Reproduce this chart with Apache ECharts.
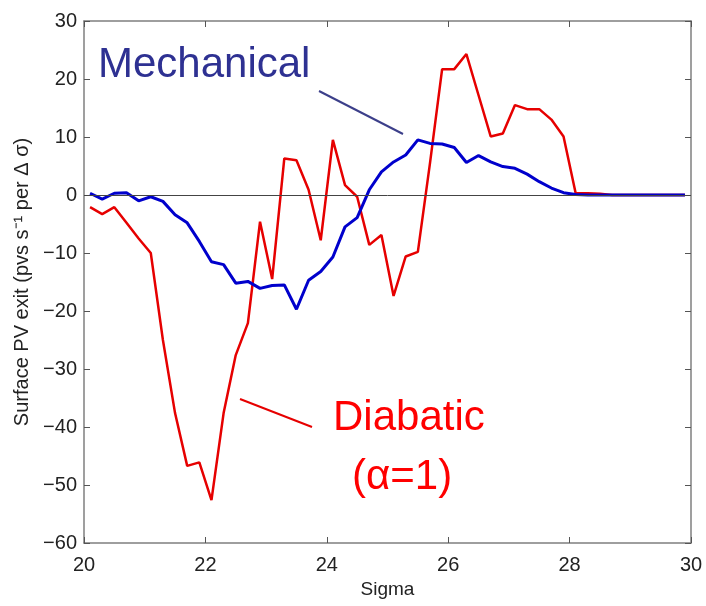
<!DOCTYPE html>
<html>
<head>
<meta charset="utf-8">
<script src="https://cdn.jsdelivr.net/npm/echarts@6/dist/echarts.min.js"></script>
<style>
  html, body { margin: 0; padding: 0; background: #fff; }
  #main { width: 706px; height: 606px; }
</style>
</head>
<body>
<div id="main"></div>
<script>
// sigma levels (step 0.2)
var sigma = [20.1, 20.3, 20.5, 20.7, 20.9, 21.1, 21.3, 21.5, 21.7, 21.9,
  22.1, 22.3, 22.5, 22.7, 22.9, 23.1, 23.3, 23.5, 23.7, 23.9,
  24.1, 24.3, 24.5, 24.7, 24.9, 25.1, 25.3, 25.5, 25.7, 25.9,
  26.1, 26.3, 26.5, 26.7, 26.9, 27.1, 27.3, 27.5, 27.7, 27.9,
  28.1, 28.3, 28.5, 28.7, 28.9, 29.1, 29.3, 29.5, 29.7, 29.9];

// diabatic (alpha=1), red
var diabatic = [-2.1, -3.3, -2.1, -4.8, -7.5, -10.0, -25.0, -37.6, -46.7, -46.1,
  -52.6, -37.6, -27.6, -22.1, -4.6, -14.5, 6.3, 6.0, 0.9, -7.8,
  9.5, 1.7, -0.3, -8.6, -6.9, -17.4, -10.6, -9.8, 5.5, 21.7,
  21.7, 24.3, 17.2, 10.1, 10.6, 15.5, 14.8, 14.8, 13.0, 10.1,
  0.3, 0.3, 0.2, 0, 0, 0, 0, 0, 0, 0];

// mechanical, blue
var mechanical = [0.3, -0.7, 0.3, 0.4, -1.0, -0.3, -1.1, -3.4, -4.8, -8.0,
  -11.5, -12.0, -15.2, -14.9, -16.1, -15.6, -15.5, -19.7, -14.7, -13.2,
  -10.7, -5.5, -3.9, 0.9, 4.0, 5.7, 6.9, 9.5, 8.9, 8.8,
  8.2, 5.6, 6.8, 5.7, 4.9, 4.6, 3.6, 2.3, 1.2, 0.4,
  0.1, 0, 0, 0, 0, 0, 0, 0, 0, 0];

var xTicks = { min: 20, max: 30, interval: 2 };
var yTicks = { min: -60, max: 30, interval: 10 };

function pairs(xs, ys) {
  var out = [];
  for (var i = 0; i < xs.length; i++) out.push([xs[i], ys[i]]);
  return out;
}

var FONT = 'Liberation Sans, Arial, sans-serif';
var frame = { show: true, onZero: false, lineStyle: { color: '#7f7f7f', width: 1.5 } };
var tick = { show: true, inside: true, length: 6, lineStyle: { color: '#555', width: 1 } };

var myChart = echarts.init(document.getElementById('main'));

var option = {
  animation: false,
  backgroundColor: '#fff',
  grid: { left: 84, right: 15, top: 21, bottom: 63, containLabel: false },
  xAxis: [{
    type: 'value', position: 'bottom',
    min: xTicks.min, max: xTicks.max, interval: xTicks.interval,
    name: 'Sigma', nameLocation: 'middle', nameGap: 34,
    nameTextStyle: { fontFamily: FONT, fontSize: 19, color: '#222' },
    axisLine: frame, axisTick: tick, splitLine: { show: false },
    axisLabel: { fontFamily: FONT, fontSize: 20, color: '#222', margin: 12 }
  }, {
    type: 'value', position: 'top',
    min: xTicks.min, max: xTicks.max, interval: xTicks.interval,
    axisLine: frame, axisTick: tick, splitLine: { show: false },
    axisLabel: { show: false }
  }],
  yAxis: [{
    type: 'value', position: 'left',
    min: yTicks.min, max: yTicks.max, interval: yTicks.interval,
    name: 'Surface PV exit (pvs s\u207B\u00B9 per \u0394 \u03C3)',
    nameLocation: 'middle', nameGap: 52, nameRotate: 90,
    nameTextStyle: { fontFamily: FONT, fontSize: 20, color: '#222' },
    axisLine: frame, axisTick: tick, splitLine: { show: false },
    axisLabel: {
      fontFamily: FONT, fontSize: 20, color: '#222', margin: 7,
      formatter: function (v) { return String(v).replace('-', '\u2212'); }
    }
  }, {
    type: 'value', position: 'right',
    min: yTicks.min, max: yTicks.max, interval: yTicks.interval,
    axisLine: frame, axisTick: tick, splitLine: { show: false },
    axisLabel: { show: false }
  }],
  series: [{
    name: 'Diabatic',
    type: 'line',
    data: pairs(sigma, diabatic),
    showSymbol: false,
    lineStyle: { color: '#e60000', width: 2.5 },
    z: 3,
    markLine: {
      silent: true, symbol: 'none', label: { show: false },
      lineStyle: { color: '#444', width: 1, type: 'solid' },
      data: [{ yAxis: 0 }]
    }
  }, {
    name: 'Mechanical',
    type: 'line',
    data: pairs(sigma, mechanical),
    showSymbol: false,
    lineStyle: { color: '#0000cc', width: 3 },
    z: 4
  }],
  graphic: [
    { type: 'text', left: 98, top: 44, z: 10,
      style: { text: 'Mechanical', fill: '#2e3192', font: '42px ' + FONT } },
    { type: 'line', z: 10,
      shape: { x1: 319, y1: 91, x2: 403, y2: 134 },
      style: { stroke: '#3c3f8a', lineWidth: 2 } },
    { type: 'text', left: 333, top: 397, z: 10,
      style: { text: 'Diabatic', fill: '#ff0000', font: '42px ' + FONT } },
    { type: 'text', left: 352, top: 456, z: 10,
      style: { text: '(\u03B1=1)', fill: '#ff0000', font: '42px ' + FONT } },
    { type: 'line', z: 10,
      shape: { x1: 240, y1: 399, x2: 312, y2: 427 },
      style: { stroke: '#e60000', lineWidth: 2 } }
  ]
};

myChart.setOption(option);
</script>
</body>
</html>
